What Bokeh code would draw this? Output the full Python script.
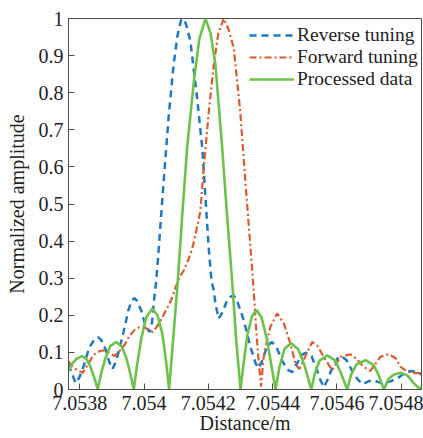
from bokeh.plotting import figure
from bokeh.models import Range1d, FixedTicker, Legend, LegendItem
from bokeh.embed import file_html
from bokeh.resources import INLINE

# ---------------- data ----------------
rev_x = [7.053765, 7.053774, 7.053787, 7.053799, 7.053812, 7.053830, 7.053846, 7.053857,
         7.053867, 7.053880, 7.053892, 7.053902, 7.053914, 7.053927, 7.053939, 7.053951,
         7.053961, 7.053970, 7.053979, 7.053992, 7.054004, 7.054017, 7.054025, 7.054031,
         7.054038, 7.054046, 7.054061, 7.054077, 7.054092, 7.054104, 7.054115, 7.054120,
         7.054126, 7.054132, 7.054144, 7.054165, 7.054181, 7.054191, 7.054201, 7.054210,
         7.054217, 7.054222, 7.054232, 7.054244, 7.054256, 7.054269, 7.054279, 7.054291,
         7.054310, 7.054331, 7.054347, 7.054357, 7.054368, 7.054383, 7.054398, 7.054412,
         7.054430, 7.054449, 7.054461, 7.054474, 7.054493, 7.054505, 7.054521, 7.054536,
         7.054549, 7.054559, 7.054570, 7.054586, 7.054602, 7.054614, 7.054630, 7.054648,
         7.054664, 7.054679, 7.054698, 7.054714, 7.054729, 7.054745, 7.054766, 7.054788,
         7.054810, 7.054829, 7.054847, 7.054863]
rev_y = [0.068, 0.047, 0.017, 0.033, 0.063, 0.114, 0.135, 0.141,
         0.133, 0.109, 0.074, 0.055, 0.079, 0.122, 0.165, 0.213,
         0.238, 0.246, 0.238, 0.211, 0.173, 0.155, 0.181, 0.241,
         0.294, 0.383, 0.562, 0.741, 0.876, 0.954, 0.995, 1.000,
         0.995, 0.980, 0.940, 0.786, 0.652, 0.517, 0.383, 0.292,
         0.267, 0.232, 0.191, 0.208, 0.235, 0.250, 0.254, 0.235,
         0.187, 0.115, 0.070, 0.057, 0.079, 0.117, 0.128, 0.114,
         0.076, 0.052, 0.047, 0.068, 0.095, 0.099, 0.090, 0.057,
         0.025, 0.006, 0.025, 0.060, 0.084, 0.090, 0.079, 0.049,
         0.028, 0.014, 0.022, 0.025, 0.020, 0.016, 0.022, 0.030,
         0.044, 0.050, 0.047, 0.041]

fwd_x = [7.053765, 7.053777, 7.053787, 7.053809, 7.053827, 7.053843, 7.053856, 7.053872,
         7.053889, 7.053908, 7.053923, 7.053939, 7.053955, 7.053970, 7.053986, 7.054001,
         7.054014, 7.054027, 7.054039, 7.054051, 7.054063, 7.054084, 7.054100, 7.054112,
         7.054123, 7.054138, 7.054150, 7.054163, 7.054175, 7.054186, 7.054201, 7.054217,
         7.054231, 7.054248, 7.054263, 7.054279, 7.054300, 7.054315, 7.054331, 7.054339,
         7.054349, 7.054357, 7.054364, 7.054371, 7.054378, 7.054393, 7.054414, 7.054435,
         7.054455, 7.054471, 7.054483, 7.054502, 7.054523, 7.054539, 7.054559, 7.054585,
         7.054611, 7.054642, 7.054664, 7.054683, 7.054704, 7.054735, 7.054761, 7.054782,
         7.054798, 7.054818, 7.054838, 7.054863]
fwd_y = [0.076, 0.062, 0.055, 0.045, 0.070, 0.093, 0.101, 0.106,
         0.099, 0.090, 0.103, 0.120, 0.145, 0.160, 0.168, 0.169,
         0.160, 0.155, 0.168, 0.185, 0.205, 0.240, 0.280, 0.305,
         0.320, 0.350, 0.380, 0.430, 0.480, 0.600, 0.745, 0.876,
         0.960, 1.000, 0.970, 0.921, 0.741, 0.562, 0.383, 0.292,
         0.160, 0.070, 0.008, 0.080, 0.115, 0.169, 0.205, 0.178,
         0.124, 0.070, 0.055, 0.090, 0.128, 0.118, 0.088, 0.052,
         0.088, 0.095, 0.080, 0.061, 0.050, 0.088, 0.095, 0.085,
         0.061, 0.048, 0.044, 0.044]

proc_x = [7.053765, 7.053777, 7.053790, 7.053807, 7.053821, 7.053833, 7.053846, 7.053856,
          7.053867, 7.053880, 7.053895, 7.053913, 7.053930, 7.053945, 7.053958, 7.053968,
          7.053979, 7.053992, 7.054007, 7.054025, 7.054042, 7.054057, 7.054068, 7.054078,
          7.054090, 7.054105, 7.054119, 7.054134, 7.054155, 7.054172, 7.054191, 7.054207,
          7.054222, 7.054243, 7.054258, 7.054274, 7.054287, 7.054300, 7.054311, 7.054322,
          7.054336, 7.054350, 7.054365, 7.054381, 7.054395, 7.054409, 7.054421, 7.054437,
          7.054458, 7.054480, 7.054499, 7.054520, 7.054532, 7.054546, 7.054570, 7.054595,
          7.054612, 7.054632, 7.054644, 7.054661, 7.054689, 7.054714, 7.054729, 7.054746,
          7.054760, 7.054776, 7.054798, 7.054819, 7.054838, 7.054859, 7.054863]
proc_y = [0.050, 0.070, 0.083, 0.090, 0.082, 0.062, 0.030, 0.000,
          0.045, 0.085, 0.117, 0.128, 0.117, 0.085, 0.040, 0.000,
          0.070, 0.140, 0.195, 0.218, 0.200, 0.150, 0.080, 0.000,
          0.130, 0.293, 0.472, 0.652, 0.831, 0.945, 1.000, 0.960,
          0.876, 0.652, 0.472, 0.292, 0.130, 0.000, 0.080, 0.150,
          0.198, 0.214, 0.195, 0.140, 0.070, 0.000, 0.060, 0.110,
          0.125, 0.108, 0.065, 0.000, 0.045, 0.078, 0.092, 0.078,
          0.045, 0.000, 0.040, 0.068, 0.079, 0.066, 0.040, 0.000,
          0.028, 0.040, 0.045, 0.038, 0.018, 0.000, 0.010]

x_ticks = [7.0538, 7.054, 7.0542, 7.0544, 7.0546, 7.0548]
x_tick_labels = ["7.0538", "7.054", "7.0542", "7.0544", "7.0546", "7.0548"]
y_ticks = [0, 0.1, 0.2, 0.3, 0.4, 0.5, 0.6, 0.7, 0.8, 0.9, 1]
y_tick_labels = ["0", "0.1", "0.2", "0.3", "0.4", "0.5", "0.6", "0.7", "0.8", "0.9", "1"]

series_names = ["Reverse tuning", "Forward tuning", "Processed data"]

# ---------------- figure ----------------
FONT = "Liberation Serif"
p = figure(width=423, height=438, output_backend="svg", toolbar_location=None,
           x_range=Range1d(7.053765, 7.054863), y_range=Range1d(0, 1),
           min_border_left=68, min_border_right=2, min_border_top=18, min_border_bottom=49)
p.background_fill_color = "white"
p.border_fill_color = "white"
p.grid.visible = False
p.outline_line_color = "#4d4d4d"
p.outline_line_width = 1

r1 = p.line(rev_x, rev_y, line_color="#1f78c4", line_width=2.5, line_dash="7 5")
r2 = p.line(fwd_x, fwd_y, line_color="#dd5a2e", line_width=2.2, line_dash="7 3 2 3")
r3 = p.line(proc_x, proc_y, line_color="#6dc24b", line_width=2.6)

for ax in (p.xaxis[0], p.yaxis[0]):
    ax.axis_line_color = "#4d4d4d"
    ax.major_tick_line_color = "#4d4d4d"
    ax.major_tick_in = 6
    ax.major_tick_out = 0
    ax.minor_tick_line_color = None
    ax.major_label_text_font = FONT
    ax.major_label_text_font_size = "20px"
    ax.major_label_text_color = "#222222"
    ax.axis_label_text_font = FONT
    ax.axis_label_text_font_size = "20px"
    ax.axis_label_text_font_style = "normal"
    ax.axis_label_text_color = "#222222"

p.xaxis.ticker = FixedTicker(ticks=x_ticks)
p.xaxis.major_label_overrides = dict(zip(x_ticks, x_tick_labels))
p.yaxis.ticker = FixedTicker(ticks=y_ticks)
p.yaxis.major_label_overrides = dict(zip(y_ticks, y_tick_labels))
p.xaxis.axis_label = "Distance/m"
p.yaxis.axis_label = "Normalized amplitude"
p.xaxis.major_label_standoff = 6
p.xaxis.axis_label_standoff = -1
p.yaxis.major_label_standoff = 5
p.yaxis.axis_label_standoff = 8

legend = Legend(items=[LegendItem(label=series_names[0], renderers=[r1]),
                       LegendItem(label=series_names[1], renderers=[r2]),
                       LegendItem(label=series_names[2], renderers=[r3])],
                location=(181, 299), padding=0, margin=0, spacing=-1,
                border_line_alpha=0, background_fill_alpha=0,
                glyph_width=45, glyph_height=20, label_height=20, label_standoff=3,
                label_text_font=FONT, label_text_font_size="19.5px", label_text_color="#222222")
p.add_layout(legend)

open("out.html", "w").write(file_html(p, INLINE))
